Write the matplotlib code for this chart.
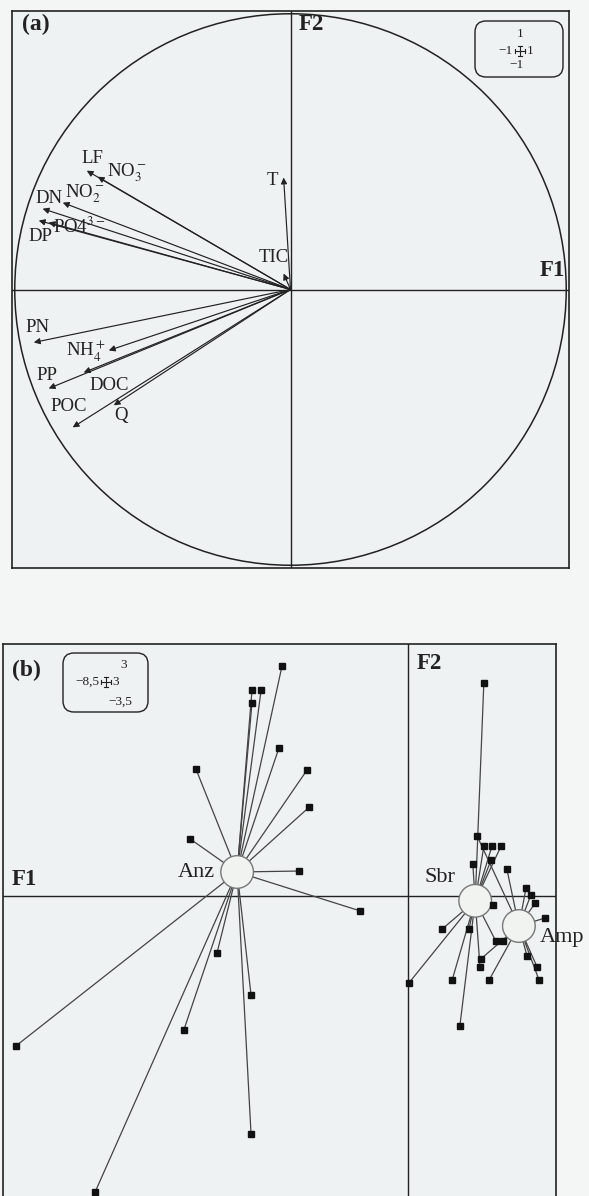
import matplotlib
matplotlib.use('Agg')
import matplotlib.pyplot as plt
from matplotlib.patches import Circle, FancyBboxPatch
from matplotlib.lines import Line2D
from matplotlib.transforms import IdentityTransform

plt.rcParams['font.family'] = ['Liberation Serif', 'DejaVu Serif']
plt.rcParams['mathtext.fontset'] = 'stix'

W, H = 589, 1196
BG = '#eef2f2'
INK = '#222222'

# ---------------- Panel (a): correlation circle ----------------
variables = ['LF', 'NO$_3^-$', 'NO$_2^-$', 'DN', 'DP', 'PO4$^{3-}$', 'T', 'TIC',
             'PN', 'NH$_4^+$', 'PP', 'DOC', 'POC', 'Q']
f1_load = [-0.739, -0.699, -0.826, -0.899, -0.913, -0.877, -0.025, -0.025,
           -0.931, -0.659, -0.877, -0.750, -0.790, -0.641]
f2_load = [0.431, 0.409, 0.315, 0.293, 0.250, 0.243, 0.406, 0.058,
           -0.192, -0.221, -0.359, -0.301, -0.500, -0.420]
# label anchor positions (layout)
label_x = [-0.717, -0.594, -0.746, -0.877, -0.906, -0.768, -0.065, -0.062,
           -0.917, -0.743, -0.884, -0.659, -0.804, -0.616]
label_y = [0.475, 0.424, 0.348, 0.330, 0.192, 0.228, 0.395, 0.116,
           -0.138, -0.221, -0.312, -0.348, -0.424, -0.457]

# ---------------- Panel (b): site scores by group ----------------
groups = ['Anz', 'Sbr', 'Amp']
anz_f1 = [-2.625, -3.25, -3.06, -3.25, -2.69, -4.42, -2.10, -2.06, -4.54, -2.27,
          -1.00, -8.17, -3.98, -3.27, -4.67, -3.27, -6.52]
anz_f2 = [4.79, 4.29, 4.29, 4.02, 3.08, 2.65, 2.63, 1.85, 1.19, 0.52,
          -0.31, -3.125, -1.19, -2.06, -2.79, -4.96, -6.17]
sbr_f1 = [1.58, 1.58, 1.75, 1.94, 1.35, 1.73, 1.77, 0.71, 1.27, 1.83, 1.50, 0.02, 0.92, 1.08]
sbr_f2 = [4.44, 1.04, 1.04, 1.04, 0.67, 0.75, -0.19, -0.69, -0.69, -0.94, -1.48, -1.81, -1.75, -2.71]
amp_f1 = [1.44, 2.06, 2.46, 2.56, 2.65, 2.85, 1.98, 1.52, 2.48, 2.69, 2.73, 1.69]
amp_f2 = [1.25, 0.56, 0.17, 0.02, -0.15, -0.46, -0.94, -1.31, -1.25, -1.48, -1.75, -1.75]
centers_f1 = [-3.56, 1.40, 2.31]
centers_f2 = [0.50, -0.10, -0.625]

fig = plt.figure(figsize=(W / 100, H / 100), dpi=100)
fig.patch.set_facecolor('#f4f6f6')


def px_rect(x0, y0, x1, y1):
    return [x0 / W, 1 - y1 / H, (x1 - x0) / W, (y1 - y0) / H]


# ---- Panel a axes
L = 1.01
axa = fig.add_axes(px_rect(12, 11, 569, 568))
axa.set_xlim(-L, L)
axa.set_ylim(-L, L)
axa.set_facecolor(BG)
axa.set_xticks([]); axa.set_yticks([])
for s in axa.spines.values():
    s.set_linewidth(1.2); s.set_color(INK)
axa.axhline(0, color=INK, lw=1.0)
axa.axvline(0, color=INK, lw=1.0)
axa.add_patch(Circle((0, 0), 1.0, fill=False, ec=INK, lw=1.1))
for name, x, y, lx, ly in zip(variables, f1_load, f2_load, label_x, label_y):
    axa.annotate('', xy=(x, y), xytext=(0, 0),
                 arrowprops=dict(arrowstyle='-|>', color=INK, lw=0.85,
                                 mutation_scale=9, shrinkA=0, shrinkB=0))
    axa.text(lx, ly, name, fontsize=13.5, ha='center', va='center', color=INK)
axa.text(0.03, 0.96, 'F2', fontsize=16.5, fontweight='bold', ha='left', va='center', color=INK)
axa.text(0.995, 0.07, 'F1', fontsize=16.5, fontweight='bold', ha='right', va='center', color=INK)
axa.text(-0.975, 0.962, '(a)', fontsize=17, fontweight='bold', ha='left', va='center', color=INK)

# ---- Panel b axes
U = 48.0  # px per unit
ox, oy = 408, 896
top_px, bot_px, left_px, right_px = 644, 1210, 3, 556
axb = fig.add_axes(px_rect(left_px, top_px, right_px, bot_px))
axb.set_xlim((left_px - ox) / U, (right_px - ox) / U)
axb.set_ylim((oy - bot_px) / U, (oy - top_px) / U)
axb.set_aspect('equal', adjustable='box')
axb.set_facecolor(BG)
axb.set_xticks([]); axb.set_yticks([])
for s in axb.spines.values():
    s.set_linewidth(1.2); s.set_color(INK)
axb.axhline(0, color=INK, lw=1.0)
axb.axvline(0, color=INK, lw=1.0)

group_pts = [(anz_f1, anz_f2), (sbr_f1, sbr_f2), (amp_f1, amp_f2)]
for (gx, gy), cx, cy in zip(group_pts, centers_f1, centers_f2):
    for x, y in zip(gx, gy):
        axb.plot([cx, x], [cy, y], color='#444444', lw=0.9, zorder=2)
    axb.plot(gx, gy, 's', color='#111111', ms=5, zorder=5)
for cx, cy in zip(centers_f1, centers_f2):
    axb.add_patch(Circle((cx, cy), 0.34, fc='#f1f3f1', ec='#777777', lw=1.0, zorder=4))

axb.text(-4.02, 0.50, 'Anz', fontsize=16, ha='right', va='center', color=INK)
axb.text(0.98, 0.38, 'Sbr', fontsize=16, ha='right', va='center', color=INK)
axb.text(2.75, -0.86, 'Amp', fontsize=16, ha='left', va='center', color=INK, zorder=6)
axb.text((12 - ox) / U, (oy - 879) / U, 'F1', fontsize=16.5, fontweight='bold', ha='left', va='center', color=INK)
axb.text((417 - ox) / U, (oy - 663) / U, 'F2', fontsize=16.5, fontweight='bold', ha='left', va='center', color=INK)
axb.text((12 - ox) / U, (oy - 670) / U, '(b)', fontsize=17, fontweight='bold', ha='left', va='center', color=INK)


# ---- scale cartouches (pixel-placed)
def rbox(x0, y0, x1, y1):
    p = FancyBboxPatch((x0, H - y1), x1 - x0, y1 - y0,
                       boxstyle='round,pad=0,rounding_size=11',
                       transform=IdentityTransform(), fc=BG, ec=INK, lw=1.0, zorder=10)
    fig.add_artist(p)


def glyph(cx, cy, s=5, c=2):
    segs = [((cx - s, cx + s), (cy, cy)), ((cx, cx), (cy - s, cy + s)),
            ((cx - s, cx - s), (cy - c, cy + c)), ((cx + s, cx + s), (cy - c, cy + c)),
            ((cx - c, cx + c), (cy - s, cy - s)), ((cx - c, cx + c), (cy + s, cy + s))]
    for xs, ys in segs:
        fig.add_artist(Line2D(xs, [H - y for y in ys], transform=IdentityTransform(),
                              color=INK, lw=0.8, zorder=11))


def ptext(x, y, s, ha='center'):
    fig.text(x / W, 1 - y / H, s, fontsize=9.5, ha=ha, va='center', color=INK, zorder=11)


rbox(475, 21, 563, 77)
ptext(520, 34, '1')
ptext(513, 51, '\u22121', ha='right')
glyph(520, 51)
ptext(527, 51, '1', ha='left')
ptext(517, 65, '\u22121')

rbox(63, 653, 148, 712)
ptext(124, 665, '3')
ptext(99, 682, '\u22128,5', ha='right')
glyph(106, 682)
ptext(112, 682, '3', ha='left')
ptext(120, 702, '\u22123,5')

fig.savefig('out.png', dpi=100, facecolor=fig.get_facecolor())
